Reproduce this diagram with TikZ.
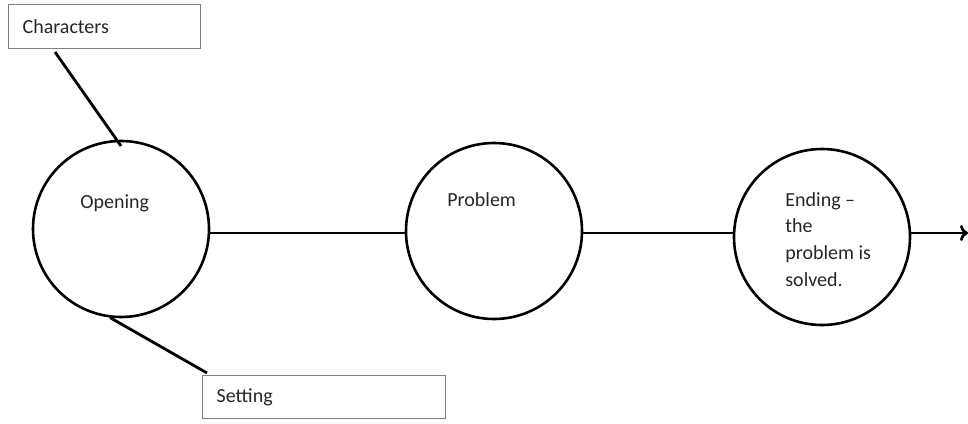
\documentclass[tikz,border=0pt]{standalone}
\usepackage{fontspec}
\setmainfont{Carlito}
\usetikzlibrary{arrows.meta}
\tikzset{
    note-box/.style = {draw=gray, line width=0.6pt, rectangle, anchor=north west, inner xsep=7pt, inner ysep=0pt, align=left, font=\fontsize{10}{13.3}\selectfont},
    stage-circle/.style = {draw=black, circle, line width=1.3pt, minimum size=88pt, inner sep=0pt},
    stage-text/.style = {anchor=north west, align=left, inner sep=0pt, text=black!85, font=\fontsize{10}{13.3}\selectfont},
    link-line/.style = {draw=black, line width=1.4pt},
}

\begin{document}
\begin{tikzpicture}[x=0.5pt, y=-0.5pt]
\useasboundingbox (0,0) rectangle (968,423);
\node [note-box, text width=82pt, minimum height=22pt, text=black!85] (characters) at (8,4) {Characters};
\node [note-box, text width=107.5pt, minimum height=21.5pt, text=black!85] (setting) at (202,375) {Setting};

\node [stage-circle] (opening) at (121,229) {};
\node [stage-circle] (problem) at (494,231) {};
\node [stage-circle] (ending) at (822,237) {};

\node [stage-text] (opening-text) at (80,194) {Opening};
\node [stage-text] (problem-text) at (447,192) {Problem};
\node [stage-text] (ending-text) at (785,192) {Ending --\\the\\problem is\\solved.};

\coordinate (characters-foot) at (55,52);
\coordinate (opening-top) at (121,146);
\coordinate (arrow-end) at (968,233);

\draw [link-line] (characters-foot) -- (opening-top);
\draw [link-line] (opening.263) -- ([xshift=2.5pt,yshift=1pt]setting.north west);
\draw [link-line] (opening.east |- arrow-end) -- (problem.west |- arrow-end);
\draw [link-line] (problem.east |- arrow-end) -- (ending.west |- arrow-end);
\draw [link-line, -{To[length=4pt,width=8pt]}] (ending.east |- arrow-end) -- (arrow-end);
\end{tikzpicture}
\end{document}
